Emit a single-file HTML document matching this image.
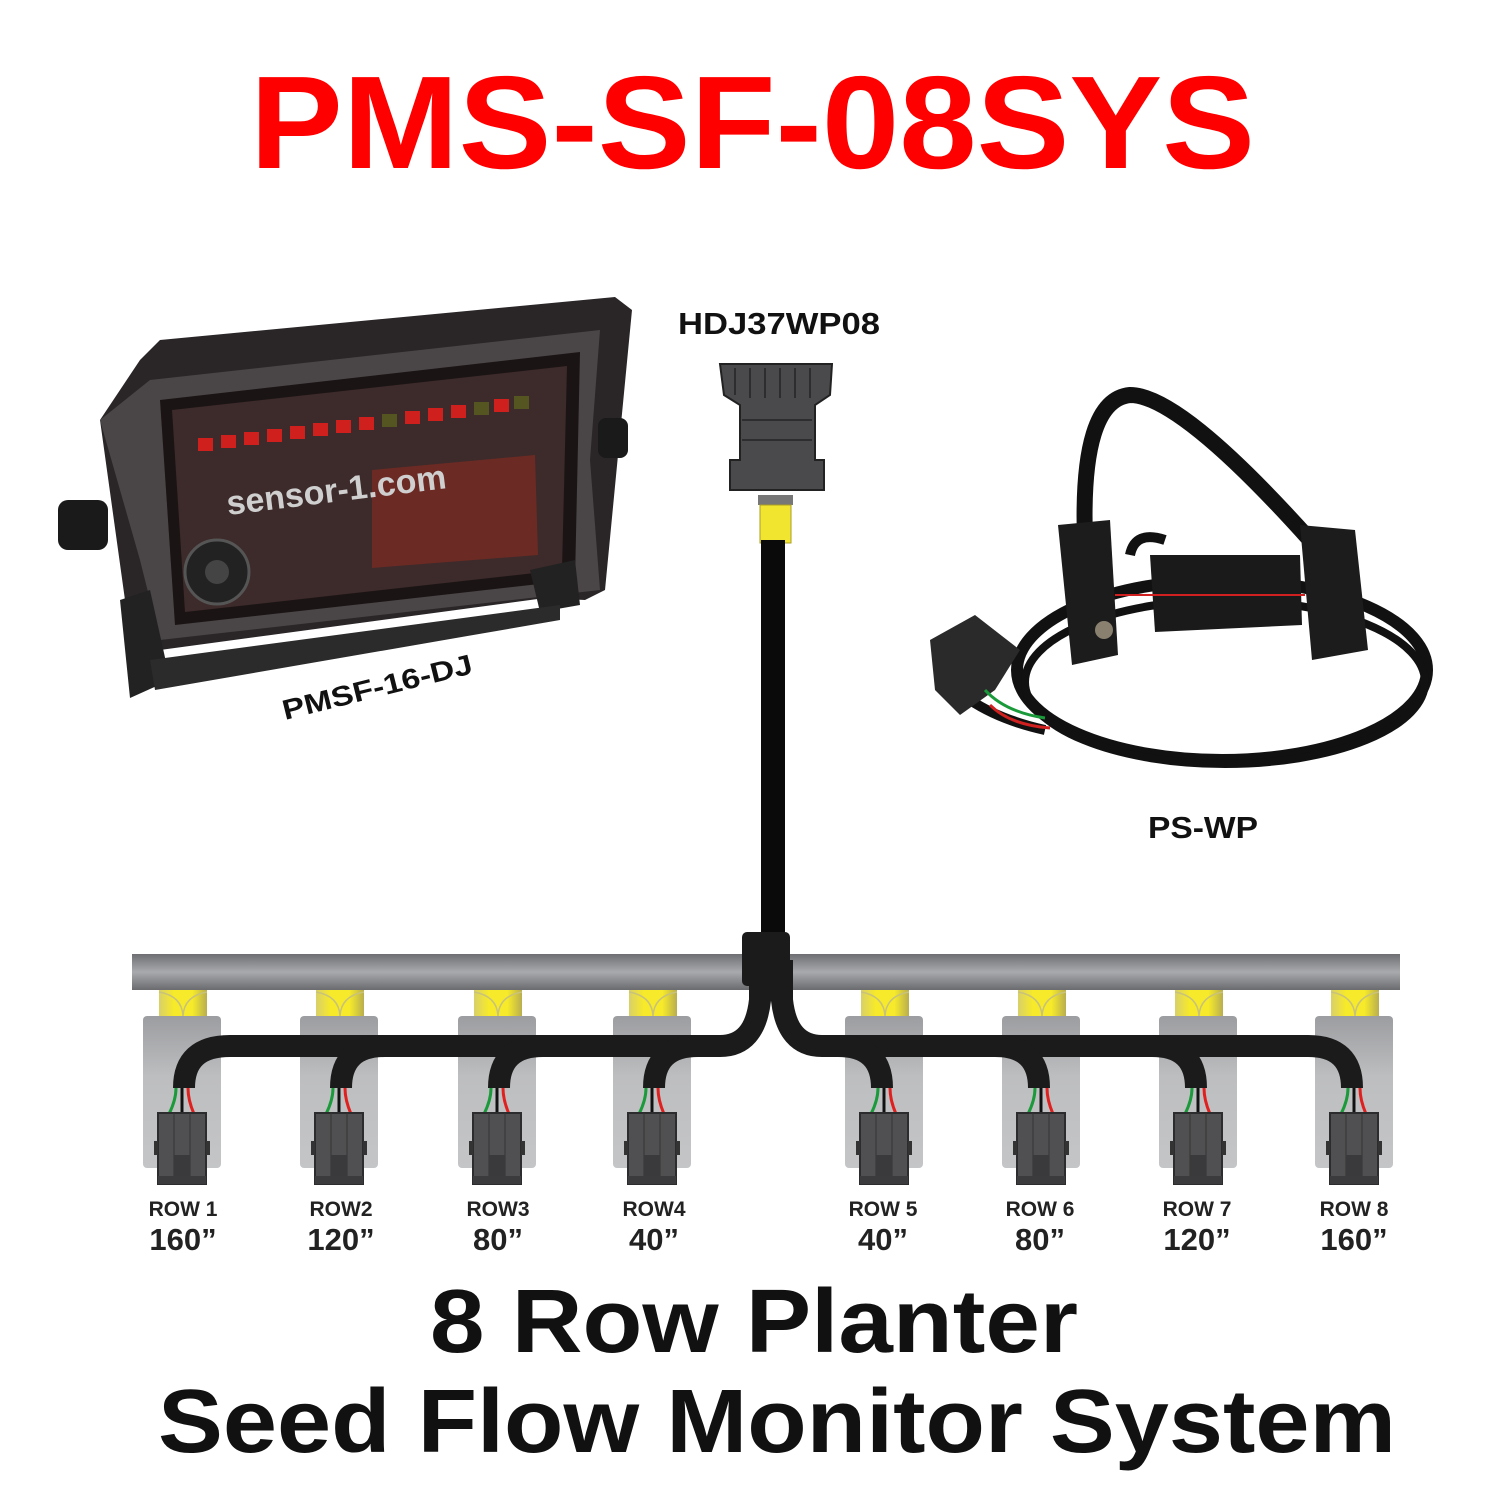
<!DOCTYPE html>
<html><head><meta charset="utf-8"><style>html,body{margin:0;padding:0;background:#fff}svg{display:block}</style></head>
<body>
<svg width="1500" height="1500" viewBox="0 0 1500 1500" xmlns="http://www.w3.org/2000/svg" font-family="Liberation Sans, sans-serif">
<defs>
<linearGradient id="bar" x1="0" y1="0" x2="0" y2="1"><stop offset="0" stop-color="#6e6f72"/><stop offset="0.5" stop-color="#a9aaad"/><stop offset="1" stop-color="#6a6b6e"/></linearGradient>
<linearGradient id="plate" x1="0" y1="0" x2="0" y2="1"><stop offset="0" stop-color="#9c9da0"/><stop offset="0.4" stop-color="#bdbec0"/><stop offset="1" stop-color="#c4c5c7"/></linearGradient>
<linearGradient id="yel" x1="0" y1="0" x2="1" y2="0"><stop offset="0" stop-color="#d8cf6a"/><stop offset="0.3" stop-color="#f6ea2a"/><stop offset="0.7" stop-color="#f6ea2a"/><stop offset="1" stop-color="#b9ae50"/></linearGradient>
<g id="unit">
<rect x="-23" y="990" width="48" height="28" fill="url(#yel)"/>
<path d="M-23 992 Q0 996 1 1016 Q2 996 25 992" fill="none" stroke="#c9c27a" stroke-width="1.5"/>
<rect x="-39" y="1016" width="78" height="152" rx="4" fill="url(#plate)"/>
</g>
<g id="conn">
<path d="M-6 1088 Q-6 1100 -13 1114" stroke="#1a9a3a" stroke-width="3" fill="none"/>
<path d="M0 1088 V1114" stroke="#111" stroke-width="3"/>
<path d="M6 1088 Q6 1100 12 1114" stroke="#e0201e" stroke-width="3" fill="none"/>
<rect x="-24" y="1113" width="48" height="71" fill="#505052" stroke="#2c2c2e" stroke-width="2"/>
<rect x="-28" y="1141" width="4" height="14" fill="#333"/><rect x="24" y="1141" width="4" height="14" fill="#333"/>
<line x1="-8" y1="1113" x2="-8" y2="1184" stroke="#333"/><line x1="8" y1="1113" x2="8" y2="1184" stroke="#333"/>
<rect x="-8" y="1155" width="16" height="24" fill="#3a3a3c"/>
<rect x="-24" y="1176" width="48" height="8" fill="#3b3b3d"/>
</g>
</defs>

<text x="250" y="168" font-size="132" font-weight="bold" fill="#ff0000" textLength="1005" lengthAdjust="spacingAndGlyphs">PMS-SF-08SYS</text>

<!-- monitor -->
<g>
<polygon points="140,360 160,340 615,297 632,310 605,590 585,600 545,598 160,650 125,600 100,420" fill="#2a2627"/>
<polygon points="150,380 600,330 590,460 600,590 160,640 140,560 100,420" fill="#4a4546"/>
<polygon points="160,400 580,352 575,580 175,625" fill="#1b1415"/>
<polygon points="172,410 567,366 562,570 185,612" fill="#3d2a2a"/>
<polygon points="372,470 535,455 538,555 372,568" fill="#6b2a24"/>
<g fill="#d0201e">
<rect x="198" y="438" width="15" height="13"/><rect x="221" y="435" width="15" height="13"/><rect x="244" y="432" width="15" height="13"/><rect x="267" y="429" width="15" height="13"/><rect x="290" y="426" width="15" height="13"/><rect x="313" y="423" width="15" height="13"/><rect x="336" y="420" width="15" height="13"/><rect x="359" y="417" width="15" height="13"/><rect x="382" y="414" width="15" height="13" fill="#552"/><rect x="405" y="411" width="15" height="13"/><rect x="428" y="408" width="15" height="13"/><rect x="451" y="405" width="15" height="13"/><rect x="474" y="402" width="15" height="13" fill="#552"/><rect x="494" y="399" width="15" height="13"/><rect x="514" y="396" width="15" height="13" fill="#552"/>
</g>
<text x="228" y="515" font-size="34" font-weight="bold" fill="#cfcfcf" transform="rotate(-7 228 515)">sensor-1.com</text>
<circle cx="217" cy="572" r="32" fill="#222" stroke="#555" stroke-width="3"/>
<circle cx="217" cy="572" r="12" fill="#444"/>
<rect x="58" y="500" width="50" height="50" rx="10" fill="#1a1a1a"/>
<rect x="598" y="418" width="30" height="40" rx="8" fill="#1a1a1a"/>
<polygon points="120,600 150,590 170,680 130,698" fill="#222"/>
<polygon points="530,570 575,560 580,605 540,612" fill="#222"/>
<polygon points="150,660 560,605 560,620 155,690" fill="#2b2b2b"/>
</g>
<text x="285" y="720" font-size="28" font-weight="bold" fill="#111" transform="rotate(-14 285 720)" textLength="195" lengthAdjust="spacingAndGlyphs">PMSF-16-DJ</text>

<!-- HDJ connector -->
<text x="678" y="334" font-size="31" font-weight="bold" fill="#111" textLength="202" lengthAdjust="spacingAndGlyphs">HDJ37WP08</text>
<path d="M720 364 H832 L830 395 L815 405 V460 H824 V490 H730 V460 H740 V405 L724 395 Z" fill="#4a4a4c" stroke="#222" stroke-width="2"/>
<g stroke="#2d2d2f" stroke-width="2"><line x1="735" y1="368" x2="735" y2="395"/><line x1="750" y1="368" x2="750" y2="398"/><line x1="765" y1="368" x2="765" y2="398"/><line x1="780" y1="368" x2="780" y2="398"/><line x1="795" y1="368" x2="795" y2="398"/><line x1="810" y1="368" x2="810" y2="398"/><line x1="742" y1="420" x2="812" y2="420"/><line x1="742" y1="440" x2="812" y2="440"/></g>
<rect x="758" y="495" width="35" height="10" fill="#777"/>
<rect x="760" y="505" width="31" height="38" fill="#f2e530" stroke="#a99e20"/>
<rect x="761" y="540" width="24" height="400" fill="#0a0a0a"/>

<!-- PS-WP sensor -->
<g fill="none" stroke="#111">
<ellipse cx="1222" cy="670" rx="205" ry="90" stroke-width="12"/>
<ellipse cx="1225" cy="682" rx="200" ry="82" stroke-width="8"/>
<path d="M1085 540 Q1080 400 1130 395 Q1180 395 1310 540" stroke-width="16"/>
<path d="M1130 555 Q1135 530 1165 540" stroke-width="10"/>
<path d="M1045 730 Q1000 720 970 700" stroke-width="10"/>
</g>
<polygon points="1058,525 1110,520 1118,655 1072,665" fill="#1c1c1c"/>
<polygon points="1150,555 1300,555 1302,625 1155,632" fill="#1a1a1a"/>
<polygon points="1300,525 1355,530 1368,650 1312,660" fill="#1c1c1c"/>
<line x1="1115" y1="595" x2="1305" y2="595" stroke="#d02020" stroke-width="2"/>
<circle cx="1104" cy="630" r="9" fill="#8a8070"/>
<polygon points="930,640 975,615 1020,650 995,690 960,715 935,690" fill="#2a2a2a"/>
<path d="M990 705 Q1010 725 1050 728" stroke="#d02020" stroke-width="3" fill="none"/>
<path d="M985 690 Q1005 712 1045 718" stroke="#1a9a3a" stroke-width="3" fill="none"/>
<text x="1148" y="838" font-size="31" font-weight="bold" fill="#111" textLength="110" lengthAdjust="spacingAndGlyphs">PS-WP</text>

<!-- bar -->
<rect x="132" y="954" width="1268" height="36" fill="url(#bar)"/>

<use href="#unit" x="182"/><use href="#unit" x="339"/><use href="#unit" x="497"/><use href="#unit" x="652"/>
<use href="#unit" x="884"/><use href="#unit" x="1041"/><use href="#unit" x="1198"/><use href="#unit" x="1354"/>

<!-- cables -->
<g fill="none" stroke="#1b1b1b" stroke-width="22">
<path d="M184 1088 Q184 1046 230 1046 H720 Q755 1046 760 1000 V960"/>
<path d="M341 1088 Q341 1046 385 1046"/>
<path d="M499 1088 Q499 1046 543 1046"/>
<path d="M654 1088 Q654 1046 698 1046"/>
<path d="M1352 1088 Q1352 1046 1308 1046 H822 Q787 1046 782 1000 V960"/>
<path d="M1196 1088 Q1196 1046 1152 1046"/>
<path d="M1039 1088 Q1039 1046 995 1046"/>
<path d="M882 1088 Q882 1046 838 1046"/>
</g>
<rect x="742" y="932" width="48" height="54" rx="5" fill="#1b1b1b"/>

<use href="#conn" x="182"/><use href="#conn" x="339"/><use href="#conn" x="497"/><use href="#conn" x="652"/>
<use href="#conn" x="884"/><use href="#conn" x="1041"/><use href="#conn" x="1198"/><use href="#conn" x="1354"/>

<g font-weight="bold" fill="#222" text-anchor="middle">
<g font-size="21"><text x="183" y="1216">ROW 1</text><text x="341" y="1216">ROW2</text><text x="498" y="1216">ROW3</text><text x="654" y="1216">ROW4</text><text x="883" y="1216">ROW 5</text><text x="1040" y="1216">ROW 6</text><text x="1197" y="1216">ROW 7</text><text x="1354" y="1216">ROW 8</text></g>
<g font-size="31"><text x="183" y="1250">160”</text><text x="341" y="1250">120”</text><text x="498" y="1250">80”</text><text x="654" y="1250">40”</text><text x="883" y="1250">40”</text><text x="1040" y="1250">80”</text><text x="1197" y="1250">120”</text><text x="1354" y="1250">160”</text></g>
</g>

<text x="430" y="1352" font-size="90" font-weight="bold" fill="#111" textLength="648" lengthAdjust="spacingAndGlyphs">8 Row Planter</text>
<text x="158" y="1452" font-size="90" font-weight="bold" fill="#111" textLength="1238" lengthAdjust="spacingAndGlyphs">Seed Flow Monitor System</text>
</svg>
</body></html>
